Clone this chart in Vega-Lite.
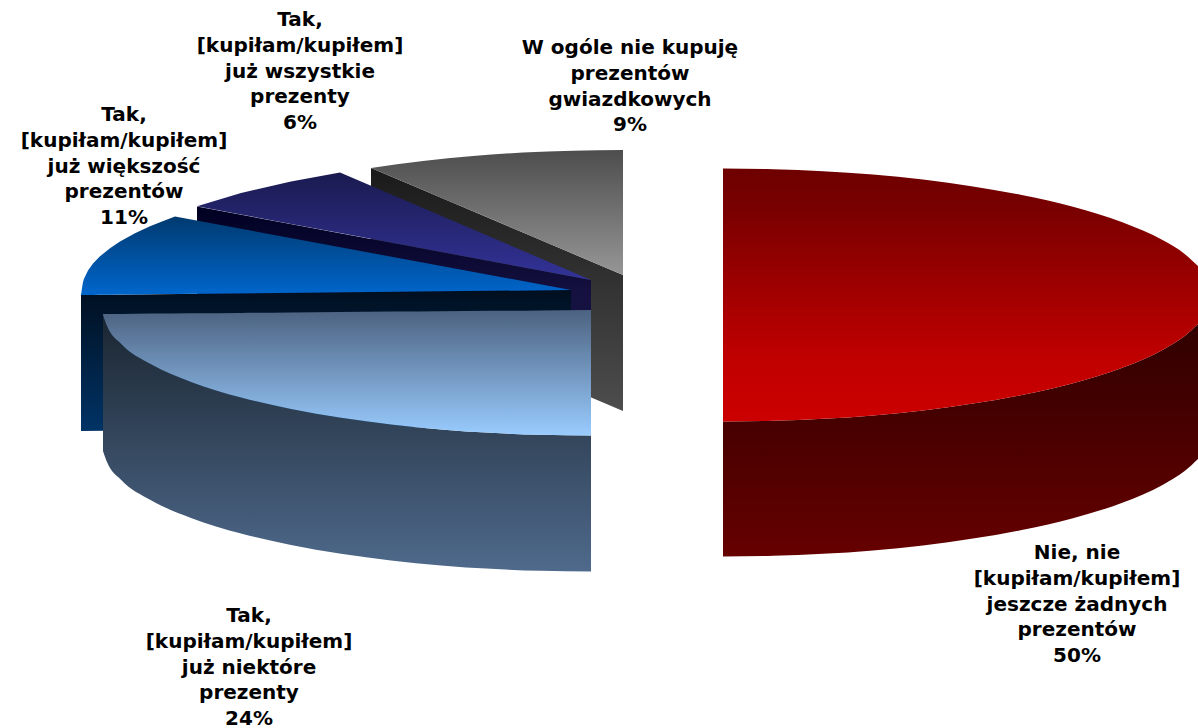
{"$schema":"https://vega.github.io/schema/vega-lite/v6.json","width":1198,"height":728,"padding":0,"autosize":{"type":"none"},"background":"white","config":{"view":{"stroke":null}},
"datasets":{
"shapes":[
{"part":"greyWall","x":371,"y":168,"y2":304},{"part":"greyWall","x":423,"y":190,"y2":326},{"part":"greyWall","x":473,"y":211.3,"y2":347.3},{"part":"greyWall","x":523,"y":232.5,"y2":368.5},{"part":"greyWall","x":573,"y":253.8,"y2":389.8},{"part":"greyWall","x":623,"y":275,"y2":411},
{"part":"greyTop","x":371,"y":168,"y2":168},{"part":"greyTop","x":423,"y":161,"y2":190},{"part":"greyTop","x":473,"y":156.1,"y2":211.3},{"part":"greyTop","x":523,"y":152.6,"y2":232.5},{"part":"greyTop","x":573,"y":150.7,"y2":253.8},{"part":"greyTop","x":623,"y":150,"y2":275},
{"part":"navyWall","x":197,"y":206.5,"y2":342},{"part":"navyWall","x":591,"y":280,"y2":416},
{"part":"navyTop","x":197,"y":206.3,"y2":206.3},{"part":"navyTop","x":241,"y":192.9,"y2":214.5},{"part":"navyTop","x":291,"y":181.4,"y2":223.9},{"part":"navyTop","x":340,"y":172.5,"y2":233},{"part":"navyTop","x":591,"y":280,"y2":280},
{"part":"blueWall","x":81,"y":295,"y2":431},{"part":"blueWall","x":571,"y":290,"y2":426},
{"part":"blueTop","x":81,"y":295,"y2":295},{"part":"blueTop","x":82,"y":288,"y2":295},{"part":"blueTop","x":83,"y":282,"y2":295},{"part":"blueTop","x":84,"y":278.7,"y2":295},{"part":"blueTop","x":88,"y":270.5,"y2":295},{"part":"blueTop","x":93,"y":263.6,"y2":294.9},{"part":"blueTop","x":100,"y":256.3,"y2":294.8},{"part":"blueTop","x":110,"y":248.3,"y2":294.7},{"part":"blueTop","x":120,"y":241.6,"y2":294.6},{"part":"blueTop","x":135,"y":233.3,"y2":294.4},{"part":"blueTop","x":150,"y":226.3,"y2":294.3},{"part":"blueTop","x":162,"y":221.4,"y2":294.1},{"part":"blueTop","x":175,"y":216.6,"y2":294},{"part":"blueTop","x":571,"y":290,"y2":290},
{"part":"lightWall","x":103,"y":315,"y2":451},{"part":"lightWall","x":107,"y":326,"y2":462},{"part":"lightWall","x":121,"y":343.8,"y2":479.8},{"part":"lightWall","x":151,"y":364.3,"y2":500.3},{"part":"lightWall","x":191,"y":381.9,"y2":517.9},{"part":"lightWall","x":241,"y":397.5,"y2":533.5},{"part":"lightWall","x":291,"y":409,"y2":545},{"part":"lightWall","x":341,"y":417.8,"y2":553.8},{"part":"lightWall","x":391,"y":424.5,"y2":560.5},{"part":"lightWall","x":441,"y":429.4,"y2":565.4},{"part":"lightWall","x":491,"y":432.8,"y2":568.8},{"part":"lightWall","x":541,"y":434.8,"y2":570.8},{"part":"lightWall","x":591,"y":435.5,"y2":571.5},
{"part":"lightTop","x":103,"y":314,"y2":315},{"part":"lightTop","x":107,"y":314,"y2":326},{"part":"lightTop","x":121,"y":313.9,"y2":343.8},{"part":"lightTop","x":151,"y":313.6,"y2":364.3},{"part":"lightTop","x":191,"y":313.3,"y2":381.9},{"part":"lightTop","x":241,"y":312.9,"y2":397.5},{"part":"lightTop","x":291,"y":312.5,"y2":409},{"part":"lightTop","x":341,"y":312,"y2":417.8},{"part":"lightTop","x":391,"y":311.6,"y2":424.5},{"part":"lightTop","x":441,"y":311.2,"y2":429.4},{"part":"lightTop","x":491,"y":310.8,"y2":432.8},{"part":"lightTop","x":541,"y":310.4,"y2":434.8},{"part":"lightTop","x":591,"y":310,"y2":435.5},
{"part":"redWall","x":723,"y":421.5,"y2":556.5},{"part":"redWall","x":773,"y":420.8,"y2":555.8},{"part":"redWall","x":823,"y":418.8,"y2":553.8},{"part":"redWall","x":873,"y":415.4,"y2":550.4},{"part":"redWall","x":923,"y":410.4,"y2":545.4},{"part":"redWall","x":973,"y":403.6,"y2":538.6},{"part":"redWall","x":1023,"y":394.8,"y2":529.8},{"part":"redWall","x":1073,"y":383.2,"y2":518.2},{"part":"redWall","x":1123,"y":367.5,"y2":502.5},{"part":"redWall","x":1163,"y":349.7,"y2":484.7},{"part":"redWall","x":1185,"y":335.8,"y2":470.8},{"part":"redWall","x":1198,"y":324,"y2":459},
{"part":"redTop","x":723,"y":168.5,"y2":421.5},{"part":"redTop","x":773,"y":169.2,"y2":420.8},{"part":"redTop","x":823,"y":171.2,"y2":418.8},{"part":"redTop","x":873,"y":174.6,"y2":415.4},{"part":"redTop","x":923,"y":179.6,"y2":410.4},{"part":"redTop","x":973,"y":186.4,"y2":403.6},{"part":"redTop","x":1023,"y":195.2,"y2":394.8},{"part":"redTop","x":1073,"y":206.8,"y2":383.2},{"part":"redTop","x":1123,"y":222.5,"y2":367.5},{"part":"redTop","x":1163,"y":240.3,"y2":349.7},{"part":"redTop","x":1185,"y":254.2,"y2":335.8},{"part":"redTop","x":1198,"y":266,"y2":324}
],
"labels":[
{"label":"W ogóle nie kupuję\nprezentów\ngwiazdkowych\n9%","x":630,"y":38},
{"label":"Tak,\n[kupiłam/kupiłem]\njuż wszystkie\nprezenty\n6%","x":300,"y":10},
{"label":"Tak,\n[kupiłam/kupiłem]\njuż większość\nprezentów\n11%","x":124,"y":105},
{"label":"Tak,\n[kupiłam/kupiłem]\njuż niektóre\nprezenty\n24%","x":249,"y":606},
{"label":"Nie, nie\n[kupiłam/kupiłem]\njeszcze żadnych\nprezentów\n50%","x":1077,"y":543}
]},
"encoding":{"x":{"field":"x","type":"quantitative","scale":{"domain":[0,1198],"nice":false,"zero":false},"axis":null},"y":{"field":"y","type":"quantitative","scale":{"domain":[728,0],"nice":false,"zero":false},"axis":null}},
"layer":[
{"data":{"name":"shapes"},"transform":[{"filter":"datum.part=='greyWall'"}],"mark":{"type":"area","fill":{"gradient":"linear","x1":0,"y1":0,"x2":0,"y2":1,"stops":[{"offset":0,"color":"#1a1a1a"},{"offset":1,"color":"#4d4d4d"}]}},"encoding":{"y2":{"field":"y2"}}},
{"data":{"name":"shapes"},"transform":[{"filter":"datum.part=='greyTop'"}],"mark":{"type":"area","interpolate":"monotone","fill":{"gradient":"linear","x1":0,"y1":0,"x2":0,"y2":1,"stops":[{"offset":0,"color":"#4d4d4d"},{"offset":1,"color":"#969696"}]}},"encoding":{"y2":{"field":"y2"}}},
{"data":{"name":"shapes"},"transform":[{"filter":"datum.part=='navyWall'"}],"mark":{"type":"area","fill":{"gradient":"linear","x1":0,"y1":0,"x2":0,"y2":1,"stops":[{"offset":0,"color":"#000022"},{"offset":0.4,"color":"#14103f"},{"offset":1,"color":"#1a1a50"}]}},"encoding":{"y2":{"field":"y2"}}},
{"data":{"name":"shapes"},"transform":[{"filter":"datum.part=='navyTop'"}],"mark":{"type":"area","fill":{"gradient":"linear","x1":0,"y1":0,"x2":0,"y2":1,"stops":[{"offset":0,"color":"#1a1a50"},{"offset":1,"color":"#333399"}]}},"encoding":{"y2":{"field":"y2"}}},
{"data":{"name":"shapes"},"transform":[{"filter":"datum.part=='blueWall'"}],"mark":{"type":"area","fill":{"gradient":"linear","x1":0,"y1":0,"x2":0,"y2":1,"stops":[{"offset":0,"color":"#000f1f"},{"offset":1,"color":"#003366"}]}},"encoding":{"y2":{"field":"y2"}}},
{"data":{"name":"shapes"},"transform":[{"filter":"datum.part=='blueTop'"}],"mark":{"type":"area","fill":{"gradient":"linear","x1":0,"y1":0,"x2":0,"y2":1,"stops":[{"offset":0,"color":"#003a70"},{"offset":1,"color":"#0066cc"}]}},"encoding":{"y2":{"field":"y2"}}},
{"data":{"name":"shapes"},"transform":[{"filter":"datum.part=='lightWall'"}],"mark":{"type":"area","interpolate":"monotone","fill":{"gradient":"linear","x1":0,"y1":0,"x2":0,"y2":1,"stops":[{"offset":0,"color":"#1a2530"},{"offset":1,"color":"#4f6a8c"}]}},"encoding":{"y2":{"field":"y2"}}},
{"data":{"name":"shapes"},"transform":[{"filter":"datum.part=='lightTop'"}],"mark":{"type":"area","interpolate":"monotone","fill":{"gradient":"linear","x1":0,"y1":0,"x2":0,"y2":1,"stops":[{"offset":0,"color":"#4c6280"},{"offset":1,"color":"#99ccff"}]}},"encoding":{"y2":{"field":"y2"}}},
{"data":{"name":"shapes"},"transform":[{"filter":"datum.part=='redWall'"}],"mark":{"type":"area","interpolate":"monotone","fill":{"gradient":"linear","x1":0,"y1":0,"x2":0,"y2":1,"stops":[{"offset":0,"color":"#300000"},{"offset":1,"color":"#660000"}]}},"encoding":{"y2":{"field":"y2"}}},
{"data":{"name":"shapes"},"transform":[{"filter":"datum.part=='redTop'"}],"mark":{"type":"area","interpolate":"monotone","fill":{"gradient":"linear","x1":0,"y1":0,"x2":0,"y2":1,"stops":[{"offset":0,"color":"#6e0000"},{"offset":0.15,"color":"#780000"},{"offset":0.75,"color":"#c00000"},{"offset":1,"color":"#cc0000"}]}},"encoding":{"y2":{"field":"y2"}}},
{"data":{"name":"labels"},"mark":{"type":"text","font":"DejaVu Sans","fontWeight":"bold","fontSize":20,"lineHeight":25.8,"lineBreak":"\n","align":"center","baseline":"top","color":"#000000"},"encoding":{"text":{"field":"label"}}}
]}
